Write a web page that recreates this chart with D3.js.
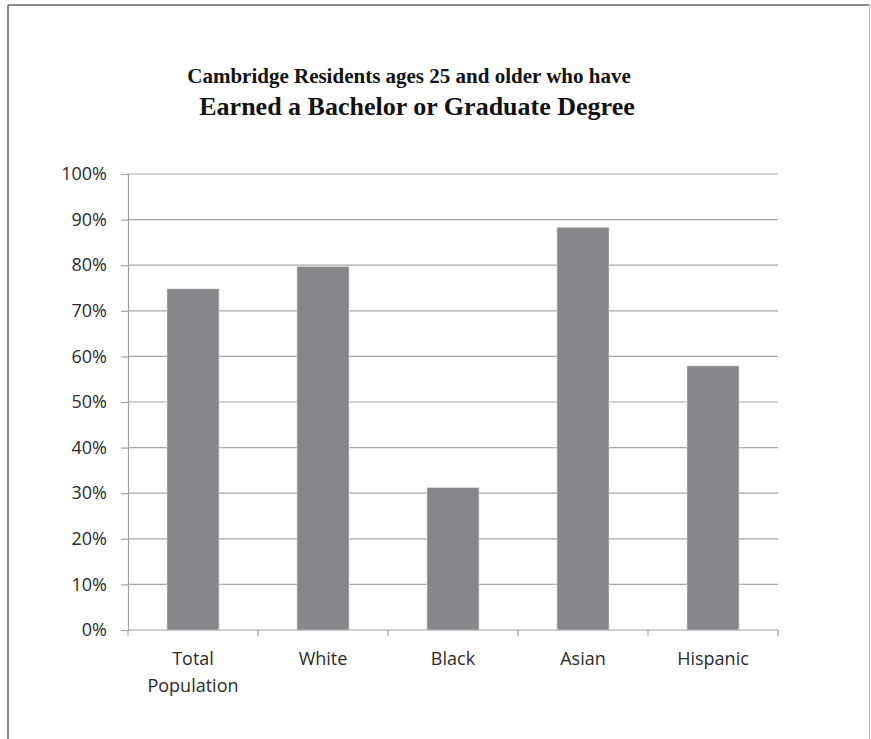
<!DOCTYPE html>
<html>
<head>
<meta charset="utf-8">
<script src="https://cdn.jsdelivr.net/npm/d3@7"></script>
<style>
  body { margin: 0; background: #fff; }
  svg { display: block; }
</style>
</head>
<body>
<svg id="chart"></svg>
<script>
const width = 871
const height = 739

// data
const categories = ['Total Population', 'White', 'Black', 'Asian', 'Hispanic']
const values = [0.748, 0.797, 0.312, 0.883, 0.579]
const yTicks = [0, 0.1, 0.2, 0.3, 0.4, 0.5, 0.6, 0.7, 0.8, 0.9, 1]
const titleLines = ['Cambridge Residents ages 25 and older who have', 'Earned a Bachelor or Graduate Degree']

const svg = d3.select('#chart').attr('width', width).attr('height', height)

// frame around the chart
svg.append('line').attr('x1', 8).attr('x2', 8).attr('y1', 5).attr('y2', height)
  .attr('stroke', '#666').attr('stroke-width', 1.5)
svg.append('line').attr('x1', 8).attr('x2', 869.5).attr('y1', 5).attr('y2', 5)
  .attr('stroke', '#666').attr('stroke-width', 1.5)
svg.append('line').attr('x1', 869.5).attr('x2', 869.5).attr('y1', 5).attr('y2', height)
  .attr('stroke', '#bbb').attr('stroke-width', 1)

const margin = { left: 128, right: 778, top: 174, bottom: 630 }

const x = d3.scaleBand().domain(categories).range([margin.left, margin.right])
  .paddingInner(0.6).paddingOuter(0.3)
const xOuter = d3.scaleBand().domain(categories).range([margin.left, margin.right])
const y = d3.scaleLinear().domain([0, 1]).range([margin.bottom, margin.top])

// title
svg.append('text')
  .attr('x', 409).attr('y', 83)
  .attr('text-anchor', 'middle')
  .style('font-family', '"Liberation Serif", "Times New Roman", serif')
  .style('font-weight', 'bold')
  .style('font-size', '21px')
  .attr('fill', '#111')
  .text(titleLines[0])
svg.append('text')
  .attr('x', 417).attr('y', 115)
  .attr('text-anchor', 'middle')
  .style('font-family', '"Liberation Serif", "Times New Roman", serif')
  .style('font-weight', 'bold')
  .style('font-size', '26px')
  .attr('fill', '#111')
  .text(titleLines[1])

// gridlines
svg.append('g')
  .selectAll('line')
  .data(yTicks.slice(1))
  .join('line')
  .attr('x1', margin.left).attr('x2', margin.right)
  .attr('y1', d => y(d)).attr('y2', d => y(d))
  .attr('stroke', '#a8a8a8')
  .attr('stroke-width', 1.2)

// bars
svg.append('g')
  .selectAll('rect')
  .data(values)
  .join('rect')
  .attr('x', (d, i) => x(categories[i]))
  .attr('width', x.bandwidth())
  .attr('y', d => y(d))
  .attr('height', d => y(0) - y(d))
  .attr('fill', '#858689')
  .attr('stroke', '#d8d8d8')
  .attr('stroke-width', 0.6)

// y axis
const yAxis = svg.append('g')
  .attr('transform', `translate(${margin.left},0)`)
  .call(d3.axisLeft(y).tickValues(yTicks).tickFormat(d3.format('.0%')).tickSize(7).tickPadding(14))
yAxis.select('.domain').attr('stroke', '#a0a0a0').attr('stroke-width', 1.2)
yAxis.selectAll('.tick line').attr('stroke', '#a0a0a0').attr('stroke-width', 1.2)
yAxis.selectAll('.tick text')
  .style('font-family', '"Open Sans", sans-serif')
  .style('font-size', '18px')
  .attr('fill', '#2b2b2b')

// x axis baseline with ticks at the band edges
const edges = categories.map(c => xOuter(c)).concat([margin.right])
svg.append('line')
  .attr('x1', margin.left).attr('x2', margin.right)
  .attr('y1', y(0)).attr('y2', y(0))
  .attr('stroke', '#a0a0a0').attr('stroke-width', 1.2)
svg.append('g')
  .selectAll('line')
  .data(edges)
  .join('line')
  .attr('x1', d => d).attr('x2', d => d)
  .attr('y1', y(0)).attr('y2', y(0) + 6)
  .attr('stroke', '#a0a0a0').attr('stroke-width', 1.2)

// category labels, wrapped on spaces for the long one
const labels = svg.append('g')
  .selectAll('text')
  .data(categories)
  .join('text')
  .attr('text-anchor', 'middle')
  .attr('x', d => xOuter(d) + xOuter.bandwidth() / 2)
  .attr('y', 665)
  .style('font-family', '"Open Sans", sans-serif')
  .style('font-size', '18px')
  .attr('fill', '#2b2b2b')
labels.each(function (d) {
  const words = d.split(' ')
  d3.select(this).selectAll('tspan')
    .data(words)
    .join('tspan')
    .attr('x', xOuter(d) + xOuter.bandwidth() / 2)
    .attr('dy', (w, i) => (i === 0 ? 0 : 27))
    .text(w => w)
})
</script>
</body>
</html>
